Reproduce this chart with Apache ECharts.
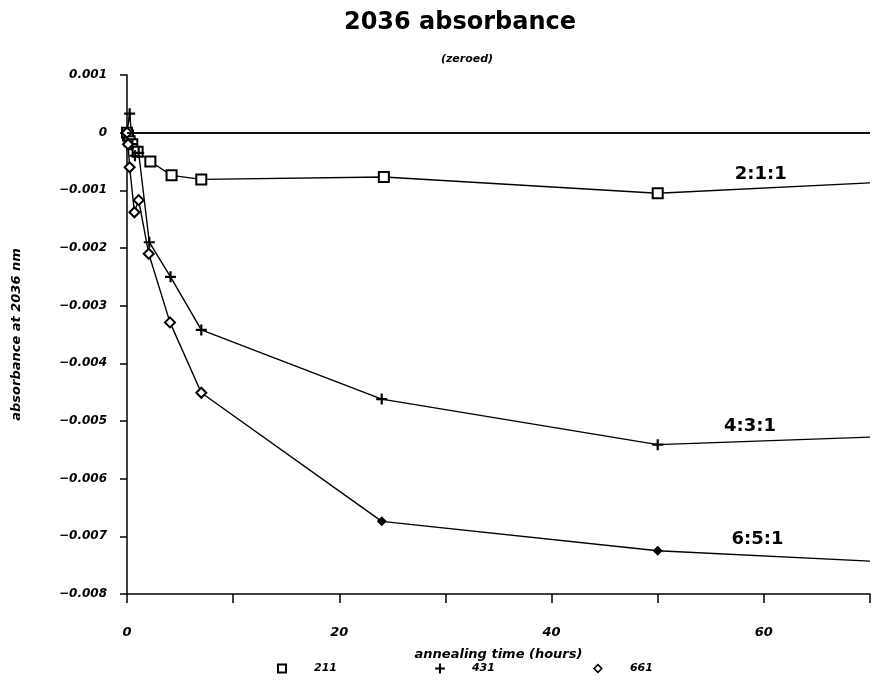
<!DOCTYPE html>
<html>
<head>
<meta charset="utf-8">
<script src="https://cdn.jsdelivr.net/npm/echarts@6/dist/echarts.min.js"></script>
<style>
  html, body { margin: 0; padding: 0; background: #fff; }
  #main { width: 873px; height: 681px; }
</style>
</head>
<body>
<div id="main"></div>
<script>
// annealing time (hours) and zeroed absorbance for each sample
var hours211 = [0, 0.1, 0.25, 0.5, 1, 2.2, 4.2, 7, 24.2, 50, 70];
var abs211 = [0, -0.00005, -0.00015, -0.0002, -0.00033, -0.0005, -0.00074, -0.00081, -0.00077, -0.00105, -0.00087];

var hours431 = [0, 0.25, 0.5, 0.75, 1.1, 2.1, 4.1, 7, 24, 50, 70];
var abs431 = [0, 0.00033, -0.0002, -0.0004, -0.00035, -0.0019, -0.0025, -0.00342, -0.00462, -0.00541, -0.00528];

var hours661 = [0, 0.1, 0.25, 0.7, 1.1, 2.05, 4.05, 7, 24, 50, 70];
var abs661 = [0, -0.0002, -0.0006, -0.00138, -0.00117, -0.0021, -0.00329, -0.00451, -0.00674, -0.00725, -0.00743];

var seriesNames = ['211', '431', '661'];
// ratio labels drawn next to the curves
var ratioText = ['2:1:1', '4:3:1', '6:5:1'];
var ratioX = [59.7, 58.7, 59.4];
var ratioY = [-0.00072, -0.00509, -0.00706];

var xTicks = [0, 20, 40, 60];

// marker shapes (outline shapes are drawn with a hole so they fill black)
var plusPath = 'path://M4,0h2v10h-2zM0,4h10v2h-10z';
var squarePath = 'path://M0,0h10v10h-10zM2,2v6h6v-6z';
var diamondPath = 'path://M5,0L10,5L5,10L0,5ZM5,2.2L2.2,5L5,7.8L7.8,5Z';

function pairs(xs, ys, filledFrom) {
  var out = [];
  for (var i = 0; i < xs.length; i++) {
    var item = { value: [xs[i], ys[i]] };
    if (filledFrom !== undefined && i >= filledFrom) item.symbol = 'diamond';
    if (i === xs.length - 1) item.symbol = 'none';
    out.push(item);
  }
  return out;
}

var lineStyle = { color: '#000', width: 1.4 };
var fontFam = '"DejaVu Sans", Verdana, sans-serif';
var italicBold = { fontFamily: fontFam, fontStyle: 'italic', fontWeight: 'bold', color: '#000' };

var chart = echarts.init(document.getElementById('main'));
chart.setOption({
  animation: false,
  backgroundColor: '#fff',
  title: [
    {
      text: '2036 absorbance',
      left: 455,
      textAlign: 'center',
      top: 6,
      textStyle: { fontFamily: fontFam, fontSize: 24, fontWeight: 'bold', color: '#000' }
    },
    {
      text: '(zeroed)',
      left: 462,
      textAlign: 'center',
      top: 49,
      textStyle: Object.assign({ fontSize: 11 }, italicBold)
    }
  ],
  legend: {
    bottom: 2,
    left: 272,
    itemGap: 98,
    itemWidth: 10,
    itemHeight: 10,
    textStyle: Object.assign({ fontSize: 11, padding: [0, 0, 0, 22] }, italicBold),
    data: [
      { name: '211', icon: squarePath, itemStyle: { color: '#000' } },
      { name: '431', icon: plusPath, itemStyle: { color: '#000' } },
      { name: '661', icon: diamondPath, itemStyle: { color: '#000' } }
    ]
  },
  grid: { left: 127, right: 0, top: 75, bottom: 87, containLabel: false },
  xAxis: {
    type: 'value',
    min: 0,
    max: 70,
    interval: 10,
    name: 'annealing time (hours)',
    nameLocation: 'middle',
    nameGap: 54,
    nameTextStyle: Object.assign({ fontSize: 13 }, italicBold),
    axisLine: { show: true, onZero: false, lineStyle: { color: '#000', width: 1.5 } },
    axisTick: { show: true, length: 9, lineStyle: { color: '#000', width: 1.5 } },
    axisLabel: Object.assign({
      margin: 32,
      fontSize: 13,
      formatter: function (v) { return xTicks.indexOf(v) >= 0 ? String(v) : ''; }
    }, italicBold),
    splitLine: { show: false }
  },
  yAxis: {
    type: 'value',
    min: -0.008,
    max: 0.001,
    interval: 0.001,
    name: 'absorbance at 2036 nm',
    nameLocation: 'middle',
    nameGap: 104,
    nameTextStyle: Object.assign({ fontSize: 13 }, italicBold),
    axisLine: { show: true, onZero: false, lineStyle: { color: '#000', width: 1.5 } },
    axisTick: { show: true, length: 7, lineStyle: { color: '#000', width: 1.5 } },
    axisLabel: Object.assign({
      margin: 20,
      fontSize: 12,
      formatter: function (v) {
        var r = Math.round(v * 1000) / 1000;
        if (r === 0) return '0';
        return (r < 0 ? '\u2212' : '') + Math.abs(r).toFixed(3);
      }
    }, italicBold),
    splitLine: { show: false }
  },
  series: [
    {
      name: seriesNames[0],
      type: 'line',
      data: pairs(hours211, abs211),
      symbol: 'emptyRect',
      symbolSize: 10,
      itemStyle: { color: '#000', borderWidth: 1.5 },
      lineStyle: lineStyle,
      markLine: {
        silent: true,
        symbol: 'none',
        label: { show: false },
        lineStyle: { color: '#000', width: 1.5, type: 'solid' },
        data: [{ yAxis: 0 }, { yAxis: 0.001 }]
      },
      markPoint: {
        silent: true,
        symbol: 'circle',
        symbolSize: 1,
        itemStyle: { color: 'rgba(0,0,0,0)' },
        label: {
          show: true, position: 'inside',
          fontFamily: fontFam, fontSize: 18, fontWeight: 'bold', color: '#000',
          formatter: '{b}'
        },
        data: ratioText.map(function (t, i) { return { name: t, coord: [ratioX[i], ratioY[i]] }; })
      }
    },
    {
      name: seriesNames[1],
      type: 'line',
      data: pairs(hours431, abs431),
      symbol: plusPath,
      symbolSize: 11,
      itemStyle: { color: '#000' },
      lineStyle: lineStyle
    },
    {
      name: seriesNames[2],
      type: 'line',
      data: pairs(hours661, abs661, 8),
      symbol: 'emptyDiamond',
      symbolSize: 10,
      itemStyle: { color: '#000', borderWidth: 1.5 },
      lineStyle: lineStyle
    }
  ]
});
</script>
</body>
</html>
